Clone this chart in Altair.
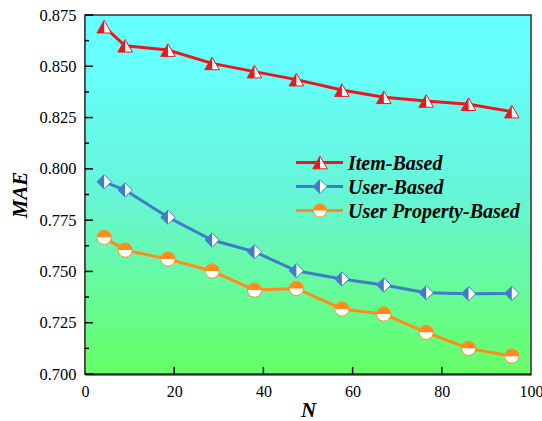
import altair as alt
import pandas as pd

names = ["Item-Based", "User-Based", "User Property-Based"]
colors = ["#E8181D", "#3F7EC6", "#FF8C1A"]
n_values = [4.3, 9.0, 18.6, 28.5, 38.0, 47.4, 57.6, 67.0, 76.5, 86.0, 95.7]
item_based = [0.8693, 0.8600, 0.8579, 0.8514, 0.8474, 0.8435, 0.8384, 0.8349, 0.8331, 0.8315, 0.8279]
user_based = [0.7937, 0.7897, 0.7764, 0.7653, 0.7596, 0.7503, 0.7463, 0.7434, 0.7396, 0.7391, 0.7393]
user_prop = [0.7666, 0.7604, 0.7560, 0.7502, 0.7409, 0.7417, 0.7317, 0.7292, 0.7203, 0.7125, 0.7087]
y_major = [0.700, 0.725, 0.750, 0.775, 0.800, 0.825, 0.850, 0.875]
y_minor = [0.7125, 0.7375, 0.7625, 0.7875, 0.8125, 0.8375, 0.8625]
x_major = [0, 20, 40, 60, 80, 100]
x_inner = [20, 40, 60, 80]

full_shapes = ["M0,-0.87L1,0.87L-1,0.87Z", "M0,-1L1,0L0,1L-1,0Z",
               "M1,0A1,1,0,1,1,-1,0A1,1,0,1,1,1,0Z"]
half_shapes = ["M0,-0.87L0,0.87L-1,0.87Z", "M0,-1L0,1L-1,0Z",
               "M-1,0A1,1,0,0,1,1,0Z"]
sizes = [210, 200, 170]

W, H = 446, 359
FONT = "Liberation Serif"

rows = []
for name, vals in zip(names, [item_based, user_based, user_prop]):
    for n, v in zip(n_values, vals):
        rows.append({"series": name, "N": n, "MAE": v})
df = pd.DataFrame(rows)

xs = alt.Scale(domain=[0, 100], nice=False)
ys = alt.Scale(domain=[0.7, 0.875], nice=False, zero=False)
cs = alt.Scale(domain=names, range=colors)
x_axis = alt.Axis(values=x_major, ticks=False, title="N", labelPadding=9, titlePadding=0,
                  labelFlush=False, labelFont=FONT, labelFontSize=16)
y_axis = alt.Axis(values=y_major, format=".3f", ticks=False, title="MAE",
                  labelPadding=9, titlePadding=8, labelFlush=False, labelFont=FONT,
                  labelFontSize=16.5)

bg = alt.Chart(pd.DataFrame({"a": [0]})).mark_rect(
    fill=alt.Gradient(gradient="linear", x1=0, y1=0, x2=0, y2=1,
                      stops=[alt.GradientStop(color="#66FFFF", offset=0),
                             alt.GradientStop(color="#66FFFF", offset=0.12),
                             alt.GradientStop(color="#66F5D6", offset=0.5),
                             alt.GradientStop(color="#66FF66", offset=1)])
).encode(x=alt.value(0), x2=alt.value(W), y=alt.value(0), y2=alt.value(H))

lines = alt.Chart(df).mark_line(strokeWidth=3).encode(
    x=alt.X("N:Q", scale=xs, axis=x_axis),
    y=alt.Y("MAE:Q", scale=ys, axis=y_axis),
    color=alt.Color("series:N", scale=cs, legend=None),
    detail="series:N",
)

full_pts = alt.Chart(df).mark_point(filled=True, fill="white", strokeWidth=1, opacity=1).encode(
    x=alt.X("N:Q", scale=xs, axis=x_axis),
    y=alt.Y("MAE:Q", scale=ys, axis=y_axis),
    stroke=alt.Stroke("series:N", scale=cs, legend=None),
    shape=alt.Shape("series:N", scale=alt.Scale(domain=names, range=full_shapes), legend=None),
    size=alt.Size("series:N", scale=alt.Scale(domain=names, range=sizes), legend=None),
)

half_pts = alt.Chart(df).mark_point(filled=True, strokeWidth=0, opacity=1).encode(
    x=alt.X("N:Q", scale=xs, axis=x_axis),
    y=alt.Y("MAE:Q", scale=ys, axis=y_axis),
    fill=alt.Fill("series:N", scale=cs, legend=None),
    shape=alt.Shape("series:N", scale=alt.Scale(domain=names, range=half_shapes), legend=None),
    size=alt.Size("series:N", scale=alt.Scale(domain=names, range=sizes), legend=None),
)

ymaj = alt.Chart(pd.DataFrame({"v": y_major})).mark_rule(color="black", strokeWidth=1.5).encode(
    y=alt.Y("v:Q", scale=ys, axis=y_axis), x=alt.value(0), x2=alt.value(8))
ymin = alt.Chart(pd.DataFrame({"v": y_minor})).mark_rule(color="black", strokeWidth=1.5).encode(
    y=alt.Y("v:Q", scale=ys, axis=y_axis), x=alt.value(0), x2=alt.value(4))
xmaj = alt.Chart(pd.DataFrame({"v": x_inner})).mark_rule(color="black", strokeWidth=1.5).encode(
    x=alt.X("v:Q", scale=xs, axis=x_axis), y=alt.value(H), y2=alt.value(H - 7))

legend_layers = []
row_y = [147.5, 171.5, 195.5]
for i, name in enumerate(names):
    ld = pd.DataFrame({"series": [name]})
    base = alt.Chart(ld)
    legend_layers.append(base.mark_rule(color=colors[i], strokeWidth=3).encode(
        x=alt.value(211), x2=alt.value(258), y=alt.value(row_y[i])))
    legend_layers.append(base.mark_point(filled=True, fill="white", stroke=colors[i],
                                         strokeWidth=1, opacity=1, shape=full_shapes[i],
                                         size=sizes[i]).encode(
        x=alt.value(235), y=alt.value(row_y[i])))
    legend_layers.append(base.mark_point(filled=True, fill=colors[i], strokeWidth=0,
                                         opacity=1, shape=half_shapes[i],
                                         size=sizes[i]).encode(
        x=alt.value(235), y=alt.value(row_y[i])))
    legend_layers.append(base.mark_text(align="left", baseline="middle", font=FONT,
                                        fontSize=20, fontStyle="italic", fontWeight="bold",
                                        color="black").encode(
        x=alt.value(263), y=alt.value(row_y[i] + 1), text="series:N"))

frame = alt.Chart(pd.DataFrame({"a": [0]})).mark_rect(
    fill=None, filled=False, stroke="#333333", strokeWidth=1.5
).encode(x=alt.value(0), x2=alt.value(W), y=alt.value(0), y2=alt.value(H))

chart = alt.layer(bg, frame, ymin, ymaj, xmaj, lines, full_pts, half_pts, *legend_layers).resolve_scale(
    shape="independent", size="independent"
).properties(
    width=W, height=H, background="white",
    autosize=alt.AutoSizeParams(type="none"),
    padding={"left": 85, "top": 15, "right": 11, "bottom": 47},
).configure_view(
    stroke=None
).configure_axis(
    domainColor="black", domainWidth=2,
    labelFont=FONT, labelColor="black",
    titleFont=FONT, titleFontSize=21, titleFontStyle="italic", titleFontWeight="bold",
    titleColor="black", grid=False,
)

chart.save("out.html", embed_options={"renderer": "svg", "actions": False})
